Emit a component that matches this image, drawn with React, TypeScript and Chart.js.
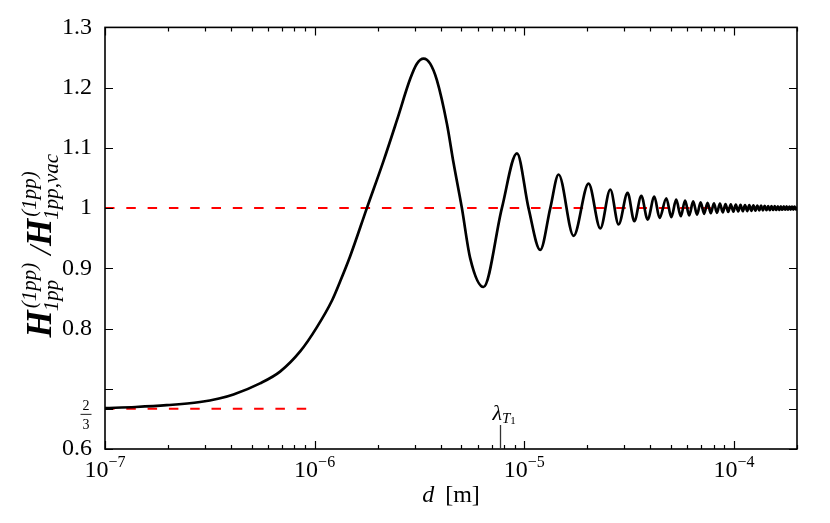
import React, { useEffect, useRef } from 'react';
import { Chart, registerables } from 'chart.js';

Chart.register(...registerables);

// ---------- data ----------
// plate separation d [m]
const dValues: number[] = [
  1.0e-7, 1.4e-7, 1.97e-7, 2.84e-7, 3.5e-7, 4.1e-7, 5.49e-7, 6.84e-7, 8.53e-7,
  1.024e-6, 1.212e-6, 1.323e-6, 1.477e-6, 1.775e-6, 2.13e-6, 2.47e-6, 2.86e-6,
  3.075e-6, 3.31e-6, 3.557e-6, 3.83e-6, 4.28e-6, 4.6e-6, 5.04e-6, 5.52e-6,
  6.39e-6, 7.82e-6, 9.23e-6,
  1.048e-5, 1.192e-5, 1.331e-5, 1.458e-5, 1.719e-5, 2.027e-5, 2.306e-5, 2.573e-5,
  2.818e-5, 3.112e-5, 3.35e-5, 3.618e-5, 3.877e-5, 4.174e-5, 4.42e-5, 4.762e-5,
  5.03e-5, 5.305e-5, 5.58e-5, 5.85e-5, 6.12e-5, 6.395e-5, 6.67e-5, 6.94e-5,
  7.21e-5, 7.485e-5, 7.76e-5, 8.03e-5, 8.3e-5, 8.575e-5, 8.85e-5, 9.12e-5,
  9.39e-5, 9.665e-5, 9.94e-5, 1.021e-4, 1.048e-4, 1.0755e-4, 1.103e-4, 1.13e-4,
  1.157e-4, 1.1845e-4, 1.212e-4, 1.239e-4, 1.266e-4, 1.2935e-4, 1.321e-4, 1.348e-4,
  1.375e-4, 1.4025e-4, 1.43e-4, 1.457e-4, 1.484e-4, 1.5115e-4, 1.539e-4, 1.566e-4,
  1.593e-4, 1.6205e-4, 1.648e-4, 1.675e-4, 1.702e-4, 1.7295e-4, 1.757e-4, 1.784e-4,
  1.811e-4, 1.8385e-4, 1.866e-4, 1.893e-4, 1.92e-4, 1.9475e-4, 1.975e-4, 2.002e-4,
];
// H ratio
const ratioValues: number[] = [
  0.6679, 0.6697, 0.6727, 0.678, 0.6838, 0.6905, 0.709, 0.7285, 0.762,
  0.802, 0.847, 0.878, 0.92, 1.0, 1.078, 1.146, 1.215,
  1.2397, 1.248, 1.2398, 1.2124, 1.1392, 1.0747, 1.0, 0.917,
  0.869, 1.0, 1.091,
  1.0, 0.9305, 1.0, 1.0558, 0.9538, 1.0406, 0.9663, 1.0309,
  0.9728, 1.0254, 0.9782, 1.0205, 0.981, 1.0189, 0.9837, 1.0163,
  0.985, 1.014, 0.9865, 1.0125, 0.988, 1.011, 0.989, 1.0095,
  0.9905, 1.0088, 0.9915, 1.008, 0.9922, 1.0074, 0.9929, 1.0068,
  0.9935, 1.0062, 0.994, 1.0057, 0.9944, 1.0054, 0.9948, 1.0051,
  0.9951, 1.0048, 0.9954, 1.0045, 0.9957, 1.0042, 0.996, 1.004,
  0.9962, 1.0038, 0.9964, 1.0035, 0.9966, 1.0033, 0.9968, 1.0032,
  0.9969, 1.003, 0.997, 1.0029, 0.9972, 1.0028, 0.9973, 1.0027,
  0.9974, 1.0025, 0.9975, 1.0024, 0.9976, 1.0023, 0.9977, 1.0023,
];

// reference lines
const vacuumLineX = [1e-7, 2e-4];
const vacuumLineY = [1, 1];
const limitLineX = [1e-7, 1e-6];
const limitLineY = [2 / 3, 2 / 3];

// thermal wavelength marker
const lambdaT1 = 7.68e-6;

// axes
const xMin = 1e-7;
const xMax = 2e-4;
const xDecades = [1e-7, 1e-6, 1e-5, 1e-4];
const xExponents = ['\u22127', '\u22126', '\u22125', '\u22124'];
const xMinorMultipliers = [2, 3, 4, 5, 6, 7, 8, 9];
const yMin = 0.6;
const yMax = 1.3;
const yTickValues = [0.6, 2 / 3, 0.7, 0.8, 0.9, 1.0, 1.1, 1.2, 1.3];
const yTickLabels = ['0.6', '', '', '0.8', '0.9', '1', '1.1', '1.2', '1.3'];
const fractionLabel = ['2', '3'];

const serif = '"Liberation Serif", "Times New Roman", serif';

const overlayPlugin = {
  id: 'overlay',
  afterDraw(chart: any) {
    const { ctx, chartArea: a, scales } = chart;
    const xs = scales.x;
    const ys = scales.y;
    ctx.save();
    ctx.fillStyle = '#000';
    ctx.strokeStyle = '#000';

    // ticks (inward, mirrored)
    ctx.lineWidth = 1.2;
    ctx.beginPath();
    xDecades.forEach((dec) => {
      const vals = [dec, ...xMinorMultipliers.map((m) => m * dec)];
      vals.forEach((v, j) => {
        if (v < xMin * 0.999 || v > xMax * 1.001) return;
        const px = Math.round(xs.getPixelForValue(v)) + 0.5;
        const len = j === 0 ? 8 : 4;
        ctx.moveTo(px, a.bottom);
        ctx.lineTo(px, a.bottom - len);
        ctx.moveTo(px, a.top);
        ctx.lineTo(px, a.top + len);
      });
    });
    yTickValues.forEach((v) => {
      const py = Math.round(ys.getPixelForValue(v)) + 0.5;
      ctx.moveTo(a.left, py);
      ctx.lineTo(a.left + 8, py);
      ctx.moveTo(a.right, py);
      ctx.lineTo(a.right - 8, py);
    });
    ctx.stroke();

    // frame
    ctx.lineWidth = 1.6;
    ctx.strokeRect(a.left, a.top, a.right - a.left, a.bottom - a.top);

    // x tick labels 10^n
    ctx.textAlign = 'left';
    ctx.textBaseline = 'alphabetic';
    xDecades.forEach((v, i) => {
      const px = xs.getPixelForValue(v);
      ctx.font = `24px ${serif}`;
      const w1 = ctx.measureText('10').width;
      ctx.font = `16px ${serif}`;
      const w2 = ctx.measureText(xExponents[i]).width;
      const x0 = px - (w1 + w2) / 2;
      ctx.font = `24px ${serif}`;
      ctx.fillText('10', x0, a.bottom + 28);
      ctx.font = `16px ${serif}`;
      ctx.fillText(xExponents[i], x0 + w1, a.bottom + 18);
    });

    // x title: d [m]
    {
      ctx.font = `italic 24px ${serif}`;
      const wd = ctx.measureText('d').width;
      ctx.font = `24px ${serif}`;
      const wm = ctx.measureText('[m]').width;
      const gap = 11;
      const cx = (a.left + a.right) / 2;
      const x0 = cx - (wd + gap + wm) / 2;
      ctx.font = `italic 24px ${serif}`;
      ctx.fillText('d', x0, a.bottom + 53);
      ctx.font = `24px ${serif}`;
      ctx.fillText('[m]', x0 + wd + gap, a.bottom + 53);
    }

    // 2/3 fraction label
    {
      const py = ys.getPixelForValue(2 / 3);
      const cx = a.left - 19;
      ctx.font = `14px ${serif}`;
      ctx.textAlign = 'center';
      ctx.fillText(fractionLabel[0], cx, py + 1.5);
      ctx.fillText(fractionLabel[1], cx, py + 20);
      ctx.lineWidth = 0.9;
      ctx.beginPath();
      ctx.moveTo(cx - 5.5, py + 5.5);
      ctx.lineTo(cx + 5.5, py + 5.5);
      ctx.stroke();
      ctx.textAlign = 'left';
    }

    // lambda_T1 marker
    {
      const px = Math.round(xs.getPixelForValue(lambdaT1)) + 0.5;
      ctx.strokeStyle = '#333';
      ctx.lineWidth = 1.3;
      ctx.beginPath();
      ctx.moveTo(px, a.bottom);
      ctx.lineTo(px, a.bottom - 24);
      ctx.stroke();
      let x = px - 8;
      ctx.font = `italic 22px ${serif}`;
      ctx.fillText('\u03bb', x, a.bottom - 29);
      x += ctx.measureText('\u03bb').width;
      ctx.font = `italic 15px ${serif}`;
      ctx.fillText('T', x, a.bottom - 26.5);
      x += ctx.measureText('T').width;
      ctx.font = `11px ${serif}`;
      ctx.fillText('1', x, a.bottom - 25.5);
      ctx.strokeStyle = '#000';
    }

    // y title: H^(1pp)_1pp / H^(1pp)_1pp,vac  (rotated)
    {
      const bigFont = `italic bold 35px ${serif}`;
      const slashFont = `italic 32px ${serif}`;
      const smallFont = `italic 21px ${serif}`;
      type Seg = { sup?: string; sub?: string; text?: string; font?: string };
      const segs: Seg[] = [
        { text: 'H', font: bigFont },
        { sup: '(1pp)', sub: '1pp' },
        { text: ' /', font: slashFont },
        { text: 'H', font: bigFont },
        { sup: '(1pp)', sub: '1pp,vac' },
      ];
      const widths = segs.map((s) => {
        if (s.text) {
          ctx.font = s.font;
          return ctx.measureText(s.text).width;
        }
        ctx.font = smallFont;
        return Math.max(ctx.measureText(s.sup).width, ctx.measureText(s.sub).width) + 2;
      });
      const total = widths.reduce((p, c) => p + c, 0);
      const baseX = 51;
      const cy = (a.top + a.bottom) / 2 + 6;
      ctx.translate(baseX, cy);
      ctx.rotate(-Math.PI / 2);
      let x = -total / 2;
      segs.forEach((s, i) => {
        if (s.text) {
          ctx.font = s.font;
          ctx.fillText(s.text, x, 0);
        } else {
          ctx.font = smallFont;
          ctx.fillText(s.sup, x + 2, -15);
          ctx.fillText(s.sub, x - 1, 7);
        }
        x += widths[i];
      });
    }
    ctx.restore();
  },
};

export default function App() {
  const canvasRef = useRef<HTMLCanvasElement | null>(null);

  useEffect(() => {
    const canvas = canvasRef.current;
    if (!canvas) return;
    const curve = dValues.map((d, i) => ({ x: d, y: ratioValues[i] }));
    const vacuum = vacuumLineX.map((d, i) => ({ x: d, y: vacuumLineY[i] }));
    const limit = limitLineX.map((d, i) => ({ x: d, y: limitLineY[i] }));
    const chart = new Chart(canvas, {
      type: 'line',
      data: {
        datasets: [
          {
            data: curve,
            borderColor: '#000',
            borderWidth: 2.7,
            pointRadius: 0,
            cubicInterpolationMode: 'monotone',
            fill: false,
          },
          {
            data: vacuum,
            borderColor: '#ff0000',
            borderWidth: 2,
            borderDash: [9.5, 11.8],
            pointRadius: 0,
            fill: false,
          },
          {
            data: limit,
            borderColor: '#ff0000',
            borderWidth: 2,
            borderDash: [9.5, 11.8],
            pointRadius: 0,
            fill: false,
          },
        ],
      },
      options: {
        responsive: false,
        animation: false,
        events: [],
        layout: { padding: { top: 19, right: 33, left: 0, bottom: 0 } },
        plugins: { legend: { display: false }, tooltip: { enabled: false }, title: { display: false } },
        scales: {
          x: {
            type: 'logarithmic',
            min: xMin,
            max: xMax,
            grid: { display: false, drawTicks: false },
            border: { display: false },
            ticks: { display: false },
            afterFit: (s: any) => {
              s.height = 74;
            },
          },
          y: {
            type: 'linear',
            min: yMin,
            max: yMax,
            grid: { display: false, drawTicks: false },
            border: { display: false },
            afterBuildTicks: (s: any) => {
              s.ticks = yTickValues.map((v) => ({ value: v }));
            },
            afterFit: (s: any) => {
              s.width = 105;
            },
            ticks: {
              autoSkip: false,
              padding: 13,
              color: '#000',
              font: { family: serif, size: 24 },
              callback: (_v: any, i: number) => yTickLabels[i],
            },
          },
        },
      },
      plugins: [overlayPlugin],
    } as any);
    return () => chart.destroy();
  }, []);

  return (
    <div style={{ position: 'fixed', left: 0, top: 0, width: 830, height: 523, background: '#fff' }}>
      <canvas ref={canvasRef} width={830} height={523} style={{ width: 830, height: 523, display: 'block' }} />
    </div>
  );
}
